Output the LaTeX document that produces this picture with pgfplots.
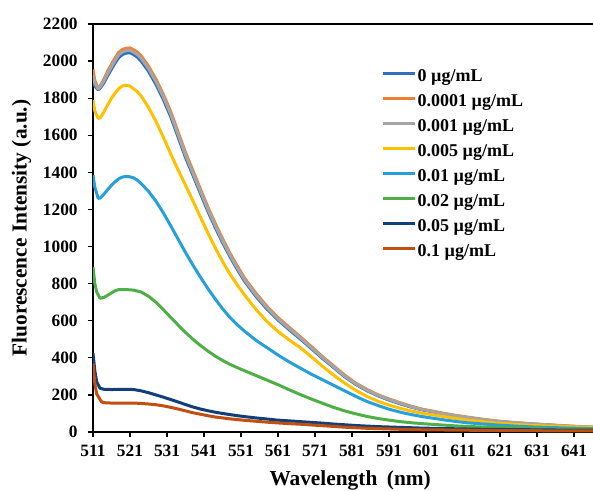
\documentclass[border=0pt]{standalone}
\usepackage{fontspec}
\setmainfont{Liberation Serif}
\usepackage{pgfplots}
\pgfplotsset{compat=1.18}
\definecolor{c0}{HTML}{2E6FBF}
\definecolor{c1}{HTML}{F07F33}
\definecolor{c2}{HTML}{A5A5A5}
\definecolor{c3}{HTML}{FFC000}
\definecolor{c4}{HTML}{26A0DA}
\definecolor{c5}{HTML}{4EAF47}
\definecolor{c6}{HTML}{123F7A}
\definecolor{c7}{HTML}{C04F10}
\begin{document}
\begin{tikzpicture}
\path[use as bounding box] (-69.75pt,-43.5pt) rectangle (375pt,324pt);
\begin{axis}[
  scale only axis,
  width=385.725pt, height=306pt,
  at={(0pt,0pt)}, anchor=south west,
  xmin=511, xmax=650, ymin=0, ymax=2200,
  xtick={511,521,...,641},
  ytick={0,200,...,2200},
  xtick pos=lower, ytick pos=left,
  tick align=outside,
  major tick length=4pt,
  tick style={black, line width=1pt},
  axis line style={black, line width=1.4pt},
  /pgf/number format/assume math mode=true,
  /pgf/number format/1000 sep={},
  tick label style={font=\fontsize{13}{15}\selectfont\bfseries},
  yticklabel style={xshift=-4pt},
  xticklabel style={yshift=-2pt},
  label style={font=\fontsize{16}{18}\selectfont\bfseries},
  xlabel={Wavelength\hspace{0.45em}(nm)},
  ylabel={Fluorescence Intensity (a.u.)},
  xlabel style={yshift=-3.5pt},
  ylabel style={yshift=2pt},
  legend style={draw=none, fill=none, inner sep=0pt, outer sep=0pt,
    at={(rel axis cs:0.5619,0.889)}, anchor=north west,
    font=\fontsize{13.5}{15}\selectfont\bfseries,
    row sep=6.25pt,
    nodes={inner sep=0pt, text height=9.5pt, text depth=3pt}},
  legend cell align=left,
  legend image code/.code={\draw[#1] (0pt,3pt) -- (24pt,3pt);},
  /tikz/every odd column/.append style={column sep=0.5pt},
  every axis plot/.append style={line width=2.25pt, no markers, line join=round},
]
\addplot[c0] coordinates {
(511,1895) (511.5,1865) (512.4,1845) (513,1855) (514,1885) (515,1922) (516,1957) (517,1991) (518,2020) (519,2036) (520,2043) (521,2045) (522,2035) (523,2021) (524,2000) (526,1945) (528,1875) (530,1793) (532,1700) (534,1590) (536,1480) (538,1385) (540,1288) (542,1192) (544,1104) (546,1022) (548,946) (550,876) (552,812) (555,732) (558,663) (561,604) (564,552) (567,502) (570,450) (573,397) (576,348) (579,298) (582,257) (585,223) (588,195) (591,172) (594,152) (597,134) (600,119) (603,108) (606,96) (609,86) (612,77) (616,66) (620,57) (625,49) (630,42) (635,36) (640,30) (646,25) (650,23)};
\addlegendentry{0 µg/mL}
\addplot[c1] coordinates {
(511,1955) (511.5,1895) (512.4,1853) (513,1868) (514,1905) (515,1947) (516,1983) (517,2018) (518,2048) (519,2063) (520,2069) (521,2071) (522,2061) (523,2048) (524,2028) (526,1973) (528,1903) (530,1821) (532,1728) (534,1617) (536,1507) (538,1410) (540,1312) (542,1215) (544,1126) (546,1043) (548,965) (550,895) (552,829) (555,749) (558,678) (561,617) (564,565) (567,514) (570,461) (573,407) (576,357) (579,307) (582,264) (585,230) (588,201) (591,178) (594,158) (597,139) (600,123) (603,112) (606,100) (609,90) (612,81) (616,70) (620,60) (625,51) (630,44) (635,38) (640,32) (646,27) (650,25)};
\addlegendentry{0.0001 µg/mL}
\addplot[c2] coordinates {
(511,1925) (511.5,1880) (512.4,1850) (513,1862) (514,1895) (515,1935) (516,1970) (517,2005) (518,2035) (519,2050) (520,2056) (521,2058) (522,2048) (523,2035) (524,2015) (526,1960) (528,1890) (530,1808) (532,1715) (534,1604) (536,1494) (538,1397) (540,1300) (542,1203) (544,1115) (546,1032) (548,955) (550,885) (552,820) (555,740) (558,670) (561,610) (564,558) (567,508) (570,455) (573,402) (576,352) (579,302) (582,260) (585,226) (588,198) (591,175) (594,155) (597,136) (600,121) (603,110) (606,98) (609,88) (612,79) (616,68) (620,58) (625,50) (630,43) (635,37) (640,31) (646,26) (650,24)};
\addlegendentry{0.001 µg/mL}
\addplot[c3] coordinates {
(511,1790) (511.5,1730) (512.4,1691) (513,1695) (514,1728) (515,1765) (516,1800) (517,1828) (518,1852) (519,1866) (520,1870) (521,1865) (522,1850) (523,1835) (524,1812) (526,1750) (528,1676) (530,1590) (532,1500) (534,1413) (536,1331) (538,1247) (540,1160) (542,1075) (544,995) (546,920) (548,852) (550,793) (552,738) (555,662) (558,596) (561,542) (564,497) (567,455) (570,406) (573,355) (576,307) (579,264) (582,225) (585,192) (588,166) (591,145) (594,128) (597,113) (600,101) (603,92) (606,83) (609,73) (612,65) (616,56) (620,48) (625,41) (630,35) (635,31) (640,28) (646,25) (650,24)};
\addlegendentry{0.005 µg/mL}
\addplot[c4] coordinates {
(511,1385) (511.5,1320) (512.4,1260) (513,1262) (514,1283) (515,1308) (516,1330) (517,1350) (518,1366) (519,1375) (520,1378) (521,1376) (522,1370) (523,1358) (524,1340) (526,1298) (528,1245) (530,1182) (532,1112) (534,1040) (536,968) (538,900) (540,836) (542,775) (544,718) (546,665) (548,618) (550,578) (552,543) (555,495) (558,455) (561,415) (564,378) (567,345) (570,312) (573,282) (576,252) (579,222) (582,192) (585,165) (588,143) (591,123) (594,107) (597,94) (600,83) (603,74) (606,65) (609,57) (612,50) (616,44) (620,38) (625,32) (630,27) (635,24) (640,21) (646,18) (650,17)};
\addlegendentry{0.01 µg/mL}
\addplot[c5] coordinates {
(511,890) (511.5,800) (512,755) (512.9,721) (514,726) (515,738) (516,750) (517,762) (518,768) (520,768) (522,765) (524,755) (526,732) (528,700) (530,660) (532,618) (534,577) (536,537) (538,500) (540,467) (542,437) (544,410) (546,386) (548,365) (550,347) (552,330) (555,305) (558,280) (561,255) (564,228) (567,202) (570,178) (573,155) (576,133) (579,114) (582,98) (585,84) (588,73) (591,64) (594,56) (597,50) (600,45) (603,41) (606,37) (609,33) (612,30) (616,27) (620,25) (625,22) (630,19) (635,17) (640,15) (646,14) (650,13)};
\addlegendentry{0.02 µg/mL}
\addplot[c6] coordinates {
(511,424) (511.5,330) (512,270) (512.9,236) (514,230) (516,229) (518,230) (520,230) (522,229) (524,222) (526,212) (528,200) (530,188) (532,175) (534,162) (536,148) (538,135) (540,124) (542,115) (544,107) (546,100) (548,94) (550,88) (552,83) (555,76) (558,70) (561,64) (564,60) (567,56) (570,52) (573,48) (576,43) (579,39) (582,35) (585,32) (588,29) (591,27) (594,25) (597,23) (600,21) (605,19) (610,17) (615,15) (620,14) (625,13) (630,12) (635,11) (640,10) (646,10) (650,10)};
\addlegendentry{0.05 µg/mL}
\addplot[c7] coordinates {
(511,370) (511.5,260) (512,205) (513.3,163) (514,158) (516,156) (518,156) (520,156) (522,156) (524,154) (526,151) (528,147) (530,141) (532,133) (534,124) (536,114) (538,104) (540,96) (542,88) (544,81) (546,76) (548,71) (550,67) (552,63) (555,58) (558,53) (561,49) (564,45) (567,42) (570,38) (573,34) (576,30) (579,26) (582,23) (585,20) (590,17) (595,14) (600,12) (605,11) (610,10) (620,8) (630,7) (640,6) (646,6) (650,6)};
\addlegendentry{0.1 µg/mL}
\end{axis}
\end{tikzpicture}
\end{document}
